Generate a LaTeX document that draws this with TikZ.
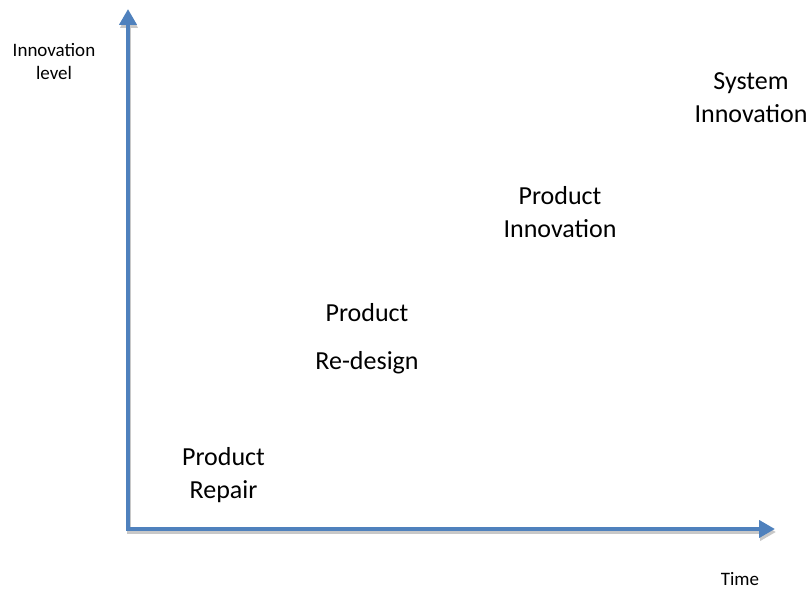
\documentclass[tikz,border=0pt]{standalone}
\usepackage{fontspec}
\setmainfont{Carlito}
\usetikzlibrary{arrows.meta}
\definecolor{axisblue}{HTML}{4F81BD}
\definecolor{shadowgray}{HTML}{C8C8C8}
\tikzset{
  axisline/.style={line width=4pt, draw=axisblue, line join=miter,
    {Triangle[width=17pt,length=16pt]}-{Triangle[width=17pt,length=16pt]}},
  axisshadow/.style={line width=4pt, draw=shadowgray, line join=miter,
    {Triangle[width=17pt,length=16pt]}-{Triangle[width=17pt,length=16pt]}},
  biglabel/.style={anchor=base, inner sep=0pt, font=\fontsize{26}{32}\selectfont},
  smalllabel/.style={anchor=base, inner sep=0pt, font=\fontsize{19}{23}\selectfont},
}
\begin{document}
\begin{tikzpicture}[x=1pt,y=1pt]
\useasboundingbox (0,0) rectangle (811,591);
\coordinate (ytip) at (128,582);
\coordinate (corner) at (128,62);
\coordinate (xtip) at (775,62);
\coordinate (ytips) at (129,579);
\coordinate (corners) at (129,59);
\coordinate (xtips) at (776,59);
\draw[axisshadow] (ytips) -- (corners) -- (xtips);
\draw[axisline] (ytip) -- (corner) -- (xtip);
\node[smalllabel] (ylab1) at (54,534) {Innovation};
\node[smalllabel] (ylab2) at (54,511) {level};
\node[smalllabel] (xlab) at (740,5) {Time};
\node[biglabel] (rep1) at (223.5,125) {Product};
\node[biglabel] (rep2) at (223.5,92) {Repair};
\node[biglabel] (red1) at (367,269) {Product};
\node[biglabel] (red2) at (367,221) {Re-design};
\node[biglabel] (pin1) at (560,386) {Product};
\node[biglabel] (pin2) at (560,353) {Innovation};
\node[biglabel] (sin1) at (751,501) {System};
\node[biglabel] (sin2) at (751,468) {Innovation};
\end{tikzpicture}
\end{document}
